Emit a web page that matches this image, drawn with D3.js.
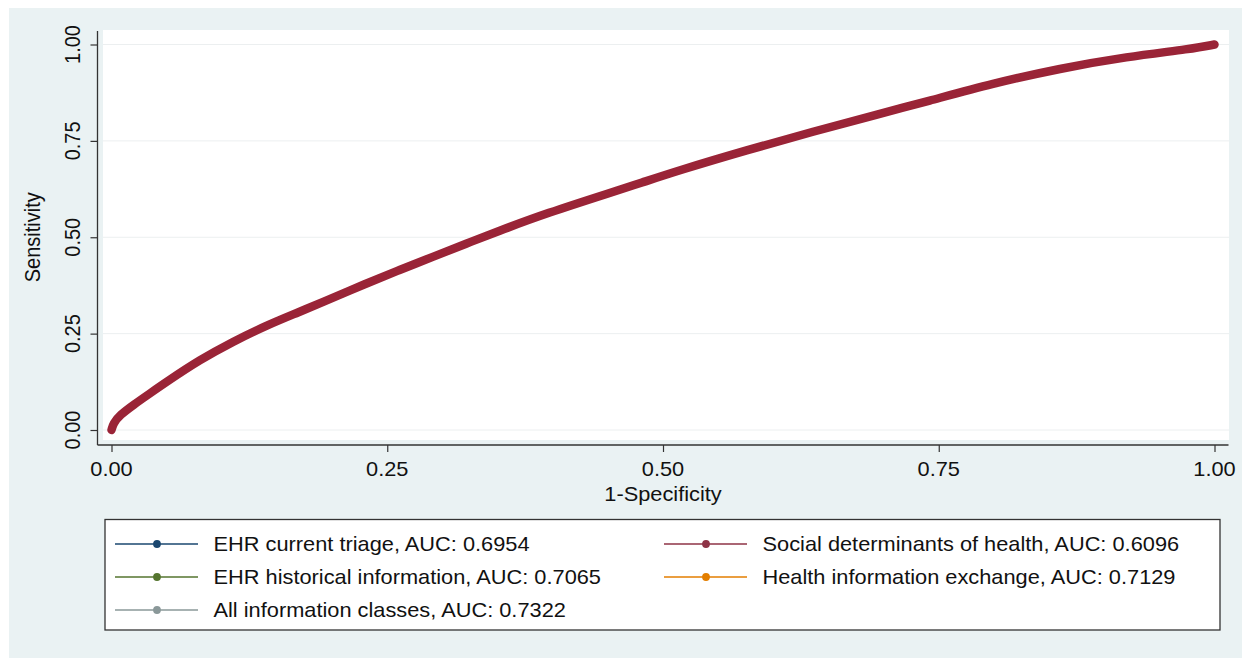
<!DOCTYPE html>
<html>
<head>
<meta charset="utf-8">
<script src="https://cdn.jsdelivr.net/npm/d3@7/dist/d3.min.js"></script>
<style>
  html, body { margin: 0; padding: 0; background: #ffffff; }
  svg { display: block; }
  text { font-family: "Liberation Sans", Arial, Helvetica, sans-serif; fill: #111; }
</style>
</head>
<body>
<svg id="chart" width="1250" height="666"></svg>
<script>
// ---- data ----
const xTicks = [0, 0.25, 0.5, 0.75, 1];
const yTicks = [0, 0.25, 0.5, 0.75, 1];
const xTickLabels = ["0.00", "0.25", "0.50", "0.75", "1.00"];
const yTickLabels = ["0.00", "0.25", "0.50", "0.75", "1.00"];
const xTitle = "1-Specificity";
const yTitle = "Sensitivity";

const seriesNames = [
  "EHR current triage, AUC: 0.6954",
  "Social determinants of health, AUC: 0.6096",
  "EHR historical information, AUC: 0.7065",
  "Health information exchange, AUC: 0.7129",
  "All information classes, AUC: 0.7322"
];
const seriesColors = ["#1a476f", "#8e3346", "#55752f", "#e37e00", "#8a9899"];

// visible ROC curve (Social determinants of health)
const sdohFpr = [0, 0.0016, 0.0077, 0.0198, 0.0349, 0.050, 0.080, 0.110, 0.141, 0.171, 0.189,
  0.231, 0.261, 0.292, 0.322, 0.349, 0.394, 0.455, 0.479, 0.515, 0.576, 0.636, 0.696,
  0.739, 0.799, 0.860, 0.920, 0.980, 1];
const sdohTpr = [0, 0.017, 0.039, 0.065, 0.095, 0.125, 0.182, 0.229, 0.272, 0.307, 0.329,
  0.380, 0.415, 0.450, 0.484, 0.514, 0.562, 0.618, 0.640, 0.674, 0.726, 0.774, 0.820,
  0.852, 0.899, 0.938, 0.968, 0.989, 1];
const curveColor = "#9a2437";

// ---- layout ----
const svg = d3.select("#chart");
const SX = 1.09; // horizontal stretch of glyphs

const x = d3.scaleLinear().domain([0, 1]).range([111.5, 1214.5]);
const y = d3.scaleLinear().domain([0, 1]).range([430, 44.5]);

// graph region
svg.append("rect").attr("x", 9).attr("y", 8).attr("width", 1233).attr("height", 650)
  .attr("fill", "#eaf2f3");
// plot region
svg.append("rect").attr("x", 103).attr("y", 30).attr("width", 1126).attr("height", 410)
  .attr("fill", "#ffffff");

// gridlines
svg.append("g").selectAll("line").data(yTicks).join("line")
  .attr("x1", 103).attr("x2", 1229)
  .attr("y1", d => y(d)).attr("y2", d => y(d))
  .attr("stroke", "#eceff0").attr("stroke-width", 1);

// axes
const xAxis = d3.axisBottom(x).tickValues(xTicks).tickSize(7).tickFormat("");
const yAxis = d3.axisLeft(y).tickValues(yTicks).tickSize(7).tickFormat("");
const gx = svg.append("g").attr("transform", "translate(0,445)").call(xAxis);
const gy = svg.append("g").attr("transform", "translate(97.5,0)").call(yAxis);
[gx, gy].forEach(g => {
  g.select(".domain").remove();
  g.selectAll(".tick line").attr("stroke", "#333").attr("stroke-width", 1.2);
});
svg.append("line").attr("x1", 97.5).attr("x2", 1228.5).attr("y1", 445).attr("y2", 445)
  .attr("stroke", "#333").attr("stroke-width", 1.3);
svg.append("line").attr("x1", 97.5).attr("x2", 97.5).attr("y1", 31).attr("y2", 445)
  .attr("stroke", "#333").attr("stroke-width", 1.3);

// tick labels
svg.append("g").selectAll("text").data(xTicks).join("text")
  .attr("transform", d => `translate(${x(d)},476) scale(${SX},1)`)
  .attr("text-anchor", "middle").attr("font-size", 20)
  .text((d, i) => xTickLabels[i]);
svg.append("g").selectAll("text").data(yTicks).join("text")
  .attr("transform", d => `translate(80,${y(d)}) scale(${SX},1) rotate(-90)`)
  .attr("text-anchor", "middle").attr("font-size", 20)
  .text((d, i) => yTickLabels[i]);

// axis titles
svg.append("text").attr("transform", `translate(${(x(0) + x(1)) / 2},501) scale(${SX},1)`)
  .attr("text-anchor", "middle").attr("font-size", 20).text(xTitle);
svg.append("text").attr("transform", `translate(39.5,${(y(0) + y(1)) / 2}) scale(${SX},1) rotate(-90)`)
  .attr("text-anchor", "middle").attr("font-size", 20).text(yTitle);

// curve
const pts = sdohFpr.map((v, i) => [v, sdohTpr[i]]);
const line = d3.line().x(d => x(d[0])).y(d => y(d[1])).curve(d3.curveBasis);
svg.append("path").datum(pts).attr("d", line)
  .attr("fill", "none").attr("stroke", curveColor).attr("stroke-width", 8.5)
  .attr("stroke-linecap", "round").attr("stroke-linejoin", "round");

// legend
svg.append("rect").attr("x", 105).attr("y", 519.5).attr("width", 1115).attr("height", 110.5)
  .attr("fill", "#ffffff").attr("stroke", "#333").attr("stroke-width", 1.3);

const rowY = [544, 577, 610];
const colKeyX = [115, 664];
const legendItems = seriesNames.map((name, i) => ({
  name, color: seriesColors[i], col: i % 2, row: Math.floor(i / 2)
}));
const lg = svg.append("g").selectAll("g").data(legendItems).join("g")
  .attr("transform", d => `translate(${colKeyX[d.col]},${rowY[d.row]})`);
lg.append("line").attr("x1", 0).attr("x2", 83).attr("y1", 0).attr("y2", 0)
  .attr("stroke", d => d.color).attr("stroke-width", 1.6);
lg.append("circle").attr("cx", 42).attr("cy", 0).attr("r", 3.9).attr("fill", d => d.color);
lg.append("text").attr("transform", `translate(98.5,7.2) scale(${SX},1)`)
  .attr("font-size", 20).text(d => d.name);
</script>
</body>
</html>
